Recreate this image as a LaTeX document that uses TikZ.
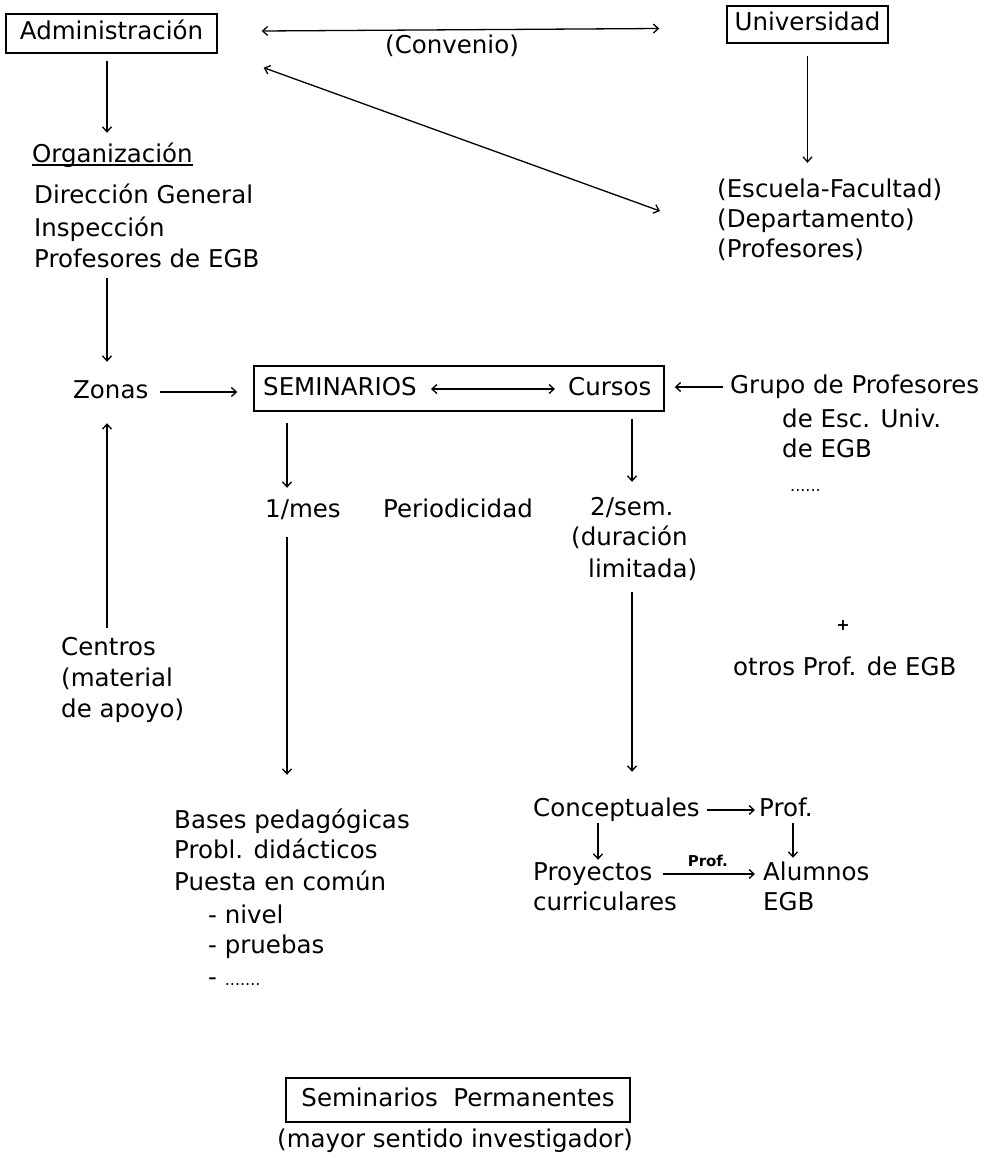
\documentclass[tikz,border=0pt]{standalone}
\usepackage{fontspec}
\setmainfont{DejaVu Sans}
\usetikzlibrary{arrows.meta,calc}
\newcommand{\myfs}{\fontsize{24.5}{30}\selectfont}
\newcommand{\mysmallfs}{\fontsize{16}{18}\selectfont}
\begin{document}
\begin{tikzpicture}[x=1pt,y=-1pt,
  txt/.style={inner sep=0pt, anchor=base west, text height=18pt, text depth=6pt, font=\myfs},
  boxed/.style={draw, line width=1.4pt, inner sep=0pt, text height=18pt, text depth=6pt, font=\myfs},
  arr/.style={line width=1.3pt, -{Straight Barb[length=5pt,width=9pt]}},
  darr/.style={line width=1.3pt, {Straight Barb[length=5pt,width=9pt]}-{Straight Barb[length=5pt,width=9pt]}}]
\useasboundingbox (0,0) rectangle (989,1154);
\fill[white] (0,0) rectangle (989,1154);
% boxes
\node[boxed, minimum width=211pt, minimum height=39pt] (adm) at (111.5,33.5) {Administración};
\node[boxed, minimum width=161pt, minimum height=37pt] (uni) at (807.5,24.5) {Universidad};
\node[draw, line width=1.4pt, minimum width=410pt, minimum height=45pt, inner sep=0pt] (sembox) at (459,388.5) {};
\node[boxed, minimum width=344pt, minimum height=44pt] (perm) at (458,1100) {Seminarios\ \ Permanentes};
% texts
\node[txt] (conv) at (385,53) {(Convenio)};
\node[txt] (org) at (32,162) {Organización};
\node[txt] (dg) at (34,203) {Dirección General};
\node[txt] (insp) at (34,236) {Inspección};
\node[txt] (pegb) at (34,267) {Profesores de EGB};
\node[txt] (esc) at (717,197) {(Escuela-Facultad)};
\node[txt] (dep) at (717,227) {(Departamento)};
\node[txt] (prof) at (717,257) {(Profesores)};
\node[txt] (zonas) at (73,398) {Zonas};
\node[txt] (sem) at (263,395) {SEMINARIOS};
\node[txt] (cursos) at (568,395) {Cursos};
\node[txt] (grupo) at (730,393) {Grupo de Profesores};
\node[txt] (escu) at (782,427) {de Esc. Univ.};
\node[txt] (degb) at (782,457) {de EGB};
\node[txt, font=\mysmallfs] (dots1) at (790,491) {......};
\node[txt] (mes) at (265,517) {1/mes};
\node[txt] (period) at (383,517) {Periodicidad};
\node[txt] (sem2) at (590,515) {2/sem.};
\node[txt] (dur) at (571,545) {(duración};
\node[txt] (lim) at (588,577) {limitada)};
\node[txt] (centros) at (61,655) {Centros};
\node[txt] (mat) at (61,686) {(material};
\node[txt] (apoyo) at (61,717) {de apoyo)};
\node[inner sep=0pt, font=\bfseries\mysmallfs] (plus) at (843,625) {+};
\node[txt] (otros) at (733,675) {otros Prof. de EGB};
\node[txt] (bases) at (174,828) {Bases pedagógicas};
\node[txt] (probl) at (174,858) {Probl. didácticos};
\node[txt] (puesta) at (174,890) {Puesta en común};
\node[txt] (nivel) at (208,923) {- nivel};
\node[txt] (pruebas) at (208,953) {- pruebas};
\node[txt] (etc) at (208,985) {- {\mysmallfs .......}};
\node[txt] (conc) at (533,816) {Conceptuales};
\node[txt] (cprof) at (759,816) {Prof.};
\node[txt] (proy) at (533,880) {Proyectos};
\node[txt] (alum) at (763,880) {Alumnos};
\node[txt] (curr) at (533,910) {curriculares};
\node[txt] (egb) at (763,910) {EGB};
\node[txt] (mayor) at (277,1147) {(mayor sentido investigador)};
% helper x positions
\coordinate (c107) at (107,0);
\coordinate (c287) at (287,0);
\coordinate (c632) at (632,0);
\coordinate (c598) at (598,0);
\coordinate (c793) at (793,0);
% underline
\draw[line width=1.3pt] ([yshift=-3pt]org.base west) -- ([yshift=-3pt]org.base east);
% connectors
\draw[arr, shorten <=7pt, shorten >=11pt] (adm.south -| c107) -- (org.north -| c107);
\draw[darr] ($(adm.east)+(44,-2.5)$) -- ($(uni.west)+(-67,4)$);
\draw[darr] ($(adm.south east)+(46,14)$) -- ($(esc.west)+(-57,20)$);
\draw[arr, shorten <=12pt, shorten >=16pt] (uni.south) -- (uni.south |- esc.north);
\draw[arr, shorten <=5pt, shorten >=18pt] (pegb.south -| c107) -- (zonas.north -| c107);
\draw[arr, shorten <=12pt, shorten >=16pt] (zonas.east) -- (zonas.east -| sembox.west);
\draw[arr, shorten <=9pt, shorten >=19pt] (centros.north -| c107) -- (zonas.south -| c107);
\draw[darr, shorten <=14pt, shorten >=13pt] (sem.east) -- (cursos.west);
\draw[arr, shorten <=7pt, shorten >=10pt] (grupo.west) -- (grupo.west -| sembox.east);
\draw[arr, shorten <=11pt, shorten >=11pt] (sembox.south -| c287) -- (mes.north -| c287);
\draw[arr, shorten <=7pt, shorten >=15pt] (sembox.south -| c632) -- (sem2.north -| c632);
\draw[arr, shorten <=14pt, shorten >=35pt] (mes.south -| c287) -- (bases.north -| c287);
\draw[arr, shorten <=9pt, shorten >=26pt] (lim.south -| c632) -- (conc.north -| c632);
\draw[arr, shorten <=7pt, shorten >=4pt] (conc.east) -- (cprof.west);
\draw[arr, shorten <=1pt, shorten >=2pt] (conc.south -| c598) -- (proy.north -| c598);
\draw[arr, shorten <=1pt, shorten >=4pt] (cprof.south -| c793) -- (alum.north -| c793);
\draw[arr, shorten <=10pt, shorten >=8pt] (proy.east) -- node[midway, anchor=base, yshift=8pt, inner sep=0pt, font=\bfseries\fontsize{15}{17}\selectfont] (lblprof) {Prof.} (alum.west);
\end{tikzpicture}
\end{document}
